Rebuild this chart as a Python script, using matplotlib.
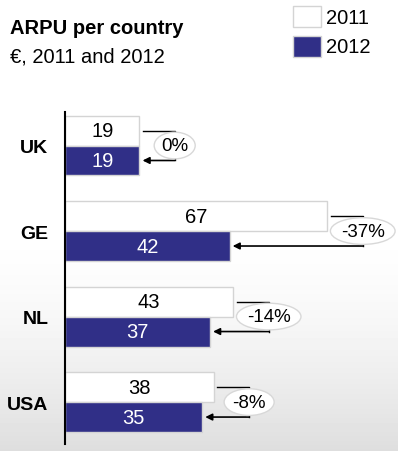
import numpy as np
import matplotlib
matplotlib.use("Agg")
import matplotlib.pyplot as plt
from matplotlib.patches import Rectangle

plt.rcParams['font.family'] = ['Liberation Sans', 'DejaVu Sans']

# data
countries = ["UK", "GE", "NL", "USA"]
arpu_2011 = [19, 67, 43, 38]
arpu_2012 = [19, 42, 37, 35]
changes = ["0%", "-37%", "-14%", "-8%"]

col_2011 = "white"
col_2012 = "#302f87"
edge = "#d4d4d4"

fig = plt.figure(figsize=(3.98, 4.52), dpi=100)

# background: white fading to light grey at the bottom
bg = fig.add_axes([0, 0, 1, 1], zorder=-10)
rows = np.linspace(0, 1, 452)
shade = np.clip((rows - 0.5) / 0.5, 0, 1) ** 1.6
grad = 1.0 - 0.13 * shade
bg.imshow(grad[:, None], aspect='auto', cmap='gray', vmin=0, vmax=1,
          extent=[0, 1, 0, 1], origin='upper')
bg.axis('off')

ax = fig.add_axes([65 / 398, 1 - 445 / 452, 1 - 65 / 398, (445 - 113) / 452])
ax.set_facecolor('none')

y = np.arange(len(countries))
h = 0.35
ax.barh(y - h / 2, arpu_2011, height=h, color=col_2011, edgecolor=edge, linewidth=1)
ax.barh(y + h / 2, arpu_2012, height=h, color=col_2012, edgecolor=edge, linewidth=1)

for i in range(len(countries)):
    v1, v2 = arpu_2011[i], arpu_2012[i]
    ax.text(v1 / 2, i - h / 2, str(v1), ha='center', va='center', fontsize=14.5, color='black')
    ax.text(v2 / 2, i + h / 2, str(v2), ha='center', va='center', fontsize=14.5, color='white')
    xc = v1 + 9
    # connector from 2011 bar down to 2012 bar
    ax.plot([v1 + 0.8, xc, xc], [i - h / 2, i - h / 2, i + h / 2], color='black', lw=1)
    ax.annotate("", xy=(v2 + 0.8, i + h / 2), xytext=(xc, i + h / 2),
                arrowprops=dict(arrowstyle='-|>', color='black', lw=1.2,
                                mutation_scale=10, shrinkA=0, shrinkB=0))
    ax.text(xc, i, changes[i], ha='center', va='center', fontsize=13.5,
            bbox=dict(boxstyle='ellipse,pad=0.05', fc='white', ec='#d8d8d8', lw=1))

ax.set_xlim(0, 85)
ax.set_ylim(3 + 0.49, -0.392)
ax.set_yticks(y)
ax.set_yticklabels(countries, fontsize=14, fontweight='bold')
ax.tick_params(axis='y', length=0, pad=12)
ax.set_xticks([])
for s in ['top', 'right', 'bottom']:
    ax.spines[s].set_visible(False)
ax.spines['left'].set_linewidth(1.5)

# title
fig.text(10 / 398, 1 - 34 / 452, "ARPU per country", fontsize=14.5, fontweight='bold',
         ha='left', va='baseline')
fig.text(10 / 398, 1 - 63 / 452, "€, 2011 and 2012", fontsize=14.5,
         ha='left', va='baseline')

# legend
for j, (lab, c) in enumerate([("2011", col_2011), ("2012", col_2012)]):
    top = 7 + j * 30
    fig.patches.append(Rectangle((293 / 398, 1 - (top + 21) / 452), 28 / 398, 21 / 452,
                                 transform=fig.transFigure, fc=c, ec=edge, lw=1))
    fig.text(326 / 398, 1 - (top + 11) / 452, lab, fontsize=14.5, ha='left', va='center')

fig.savefig("out.png", dpi=100)
